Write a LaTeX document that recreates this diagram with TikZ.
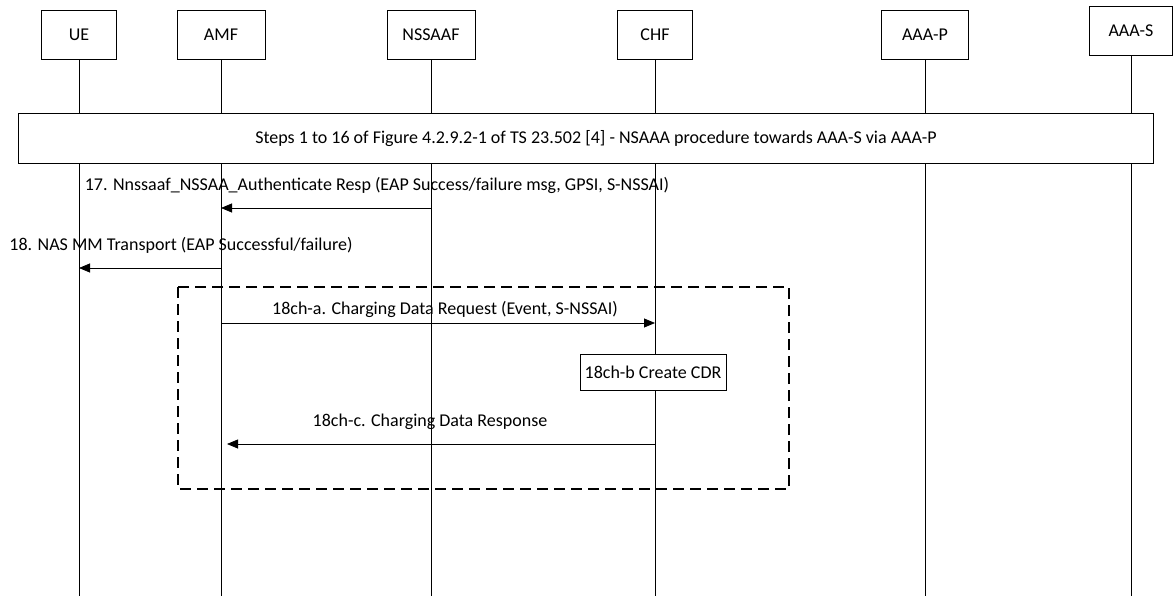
\documentclass[tikz,border=0pt]{standalone}
\usepackage{fontspec}
\setmainfont{Carlito}
\usepackage{tikz}
\usetikzlibrary{arrows.meta}
\tikzstyle{actor} = [draw, line width=0.8pt, minimum height=49pt, inner sep=0pt]
\tikzstyle{life} = [line width=0.8pt]
\tikzstyle{msg} = [line width=0.8pt,-{Triangle[length=11pt,width=9pt]}]

\begin{document}
\begin{tikzpicture}[x=1pt,y=-1pt,font=\fontsize{18}{21}\selectfont]
	\useasboundingbox (0,0) rectangle (1173,596);
	% Actors:
	% Boxes at the top, each one with its own lifeline down to the bottom edge
	\node [actor, minimum width=75pt] (ue)     at (79,34.5)   {UE};
	\node [actor, minimum width=88pt] (amf)    at (221,34.5)  {AMF};
	\node [actor, minimum width=88pt] (nssaaf) at (431,34.5)  {NSSAAF};
	\node [actor, minimum width=75pt] (chf)    at (655,34.5)  {CHF};
	\node [actor, minimum width=87pt] (aaap)   at (925,34.5)  {AAA-P};
	\node [actor, minimum width=83pt] (aaas)   at (1131,31)   {AAA-S};
	\foreach \n in {ue,amf,nssaaf,chf,aaap,aaas}{%
		\coordinate (\n end) at (\n.south |- 0,596);
		\draw [life] (\n.south) -- (\n end);
	}
	% Steps 1 to 16: one wide box across all lifelines
	\node [draw, fill=white, line width=0.8pt, minimum width=1135pt, minimum height=50pt] (steps) at (585.5,138) {};
	\node (tsteps) at (596,139)
		{Steps 1 to 16 of Figure 4.2.9.2-1 of TS 23.502 [4] - NSAAA procedure towards AAA-S via AAA-P};
	% Messages:
	\coordinate (m17) at (0,208);
	\coordinate (m18) at (0,268);
	\draw [msg] (nssaaf.south |- m17) -- (amf.south |- m17);
	\node (t17) at (377,185) {17. Nnssaaf\_NSSAA\_Authenticate Resp (EAP Success/failure msg, GPSI, S-NSSAI)};
	\draw [msg] (amf.south |- m18) -- (ue.south |- m18);
	\node (t18) at (181,245) {18. NAS MM Transport (EAP Successful/failure)};
	% Charging part, in a dashed box
	\draw [dash pattern=on 11pt off 6pt, line width=1.3pt] (178,287) rectangle (789,489);
	\coordinate (ma) at (0,323);
	\coordinate (mc) at (0,444);
	\draw [msg] (amf.south |- ma) -- (chf.south |- ma);
	\node (ta) at (445,309) {18ch-a. Charging Data Request (Event, S-NSSAI)};
	\node [draw, fill=white, line width=0.8pt, minimum width=146pt, minimum height=36pt, inner sep=2pt] (cdr) at (653,372) {18ch-b Create CDR};
	\draw [msg] (chf.south |- mc) -- ([xshift=6pt]amf.south |- mc);
	\node (tc) at (430,422) {18ch-c. Charging Data Response};
\end{tikzpicture}
\end{document}
